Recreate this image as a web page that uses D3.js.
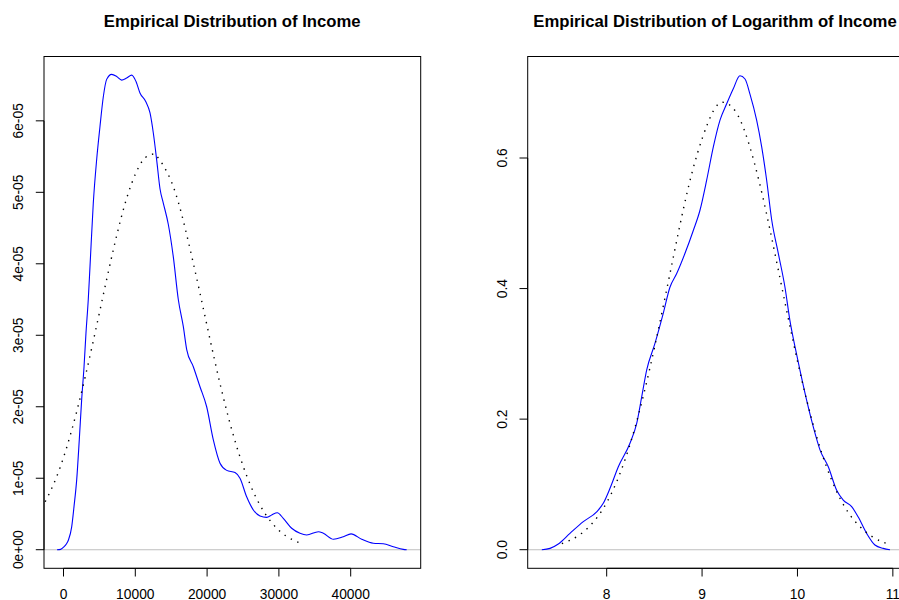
<!DOCTYPE html>
<html>
<head>
<meta charset="utf-8">
<script src="https://cdn.jsdelivr.net/npm/d3@7"></script>
<style>
  html, body { margin: 0; padding: 0; background: #fff; }
  svg { display: block; font-family: "Liberation Sans", Arial, Helvetica, sans-serif; }
</style>
</head>
<body>
<svg id="chart" width="899" height="600"></svg>
<script>
// ---------------- DATA ----------------
// Panel 1: Income — kernel density (blue)
const incomeX = [-900, -400, 0, 400, 700, 1140, 1460, 1840, 2200, 2530, 2860, 3130, 3450, 3690, 4150, 4620, 5080, 5550, 6010, 6710, 7410, 8100, 8800, 9500, 10100, 10650, 11450, 12050, 12510, 12980, 13440, 13900, 14600, 15290, 15990, 16690, 17160, 18080, 19010, 19940, 20860, 21800, 22730, 23890, 24580, 25510, 26440, 27370, 28300, 29000, 29780, 30610, 31780, 32940, 33870, 35500, 36190, 37600, 38970, 40050, 41530, 43150, 44540, 45930, 47330, 47800];
const incomeDensity = [0, 0.05e-6, 0.35e-6, 0.8e-6, 1.4e-6, 3.2e-6, 6.0e-6, 9.8e-6, 1.54e-5, 2.1e-5, 2.56e-5, 3.03e-5, 3.5e-5, 3.96e-5, 4.85e-5, 5.46e-5, 5.92e-5, 6.34e-5, 6.58e-5, 6.65e-5, 6.62e-5, 6.57e-5, 6.60e-5, 6.64e-5, 6.55e-5, 6.39e-5, 6.27e-5, 6.11e-5, 5.83e-5, 5.45e-5, 5.05e-5, 4.85e-5, 4.55e-5, 4.1e-5, 3.5e-5, 3.12e-5, 2.8e-5, 2.56e-5, 2.28e-5, 2.0e-5, 1.54e-5, 1.21e-5, 1.11e-5, 1.08e-5, 1.0e-5, 7.4e-6, 5.56e-6, 4.72e-6, 4.53e-6, 4.86e-6, 5.18e-6, 4.39e-6, 3.0e-6, 2.3e-6, 2.06e-6, 2.52e-6, 2.3e-6, 1.46e-6, 1.82e-6, 2.22e-6, 1.46e-6, 0.9e-6, 0.84e-6, 0.42e-6, 0.05e-6, 0];
// Panel 1: fitted normal (dotted)
const incomeNormX = [-3000, -1000, 1000, 3000, 5000, 7000, 9000, 11000, 12300, 13000, 15000, 17000, 19000, 21000, 23000, 25000, 27000, 29000, 31000, 33000];
const incomeNormY = [0.583e-5, 1.010e-5, 1.621e-5, 2.409e-5, 3.314e-5, 4.222e-5, 4.981e-5, 5.441e-5, 5.53e-5, 5.504e-5, 5.156e-5, 4.473e-5, 3.593e-5, 2.673e-5, 1.840e-5, 1.175e-5, 0.693e-5, 0.379e-5, 0.192e-5, 0.090e-5];

// Panel 2: log income — kernel density (blue)
const logX = [7.32, 7.406, 7.493, 7.615, 7.755, 7.895, 7.964, 8.035, 8.122, 8.244, 8.314, 8.367, 8.419, 8.506, 8.593, 8.663, 8.734, 8.821, 8.908, 8.978, 9.048, 9.118, 9.188, 9.258, 9.327, 9.397, 9.450, 9.502, 9.572, 9.625, 9.677, 9.730, 9.799, 9.869, 9.921, 9.974, 10.026, 10.096, 10.166, 10.236, 10.323, 10.411, 10.480, 10.568, 10.637, 10.725, 10.812, 10.899, 10.97];
const logDensity = [0, 0.002, 0.0087, 0.025, 0.043, 0.058, 0.071, 0.094, 0.127, 0.163, 0.193, 0.234, 0.275, 0.316, 0.362, 0.402, 0.423, 0.454, 0.489, 0.520, 0.566, 0.617, 0.658, 0.683, 0.706, 0.726, 0.721, 0.698, 0.658, 0.617, 0.566, 0.505, 0.454, 0.402, 0.351, 0.311, 0.275, 0.229, 0.188, 0.153, 0.127, 0.091, 0.076, 0.066, 0.050, 0.025, 0.0072, 0.002, 0];
// Panel 2: fitted normal (dotted)
const logNormX = [7.53, 7.7, 7.9, 8.1, 8.3, 8.5, 8.7, 8.9, 9.1, 9.235, 9.4, 9.6, 9.8, 10.0, 10.2, 10.4, 10.6, 10.8, 10.94];
const logNormY = [0.0094, 0.0212, 0.0495, 0.1025, 0.1888, 0.3089, 0.4492, 0.5805, 0.6669, 0.685, 0.6581, 0.5629, 0.4279, 0.2891, 0.1736, 0.0926, 0.0439, 0.0185, 0.0094];

// Ticks and labels
const incomeXTicks = [0, 10000, 20000, 30000, 40000];
const incomeYTicks = [0, 1e-5, 2e-5, 3e-5, 4e-5, 5e-5, 6e-5];
const incomeYLabels = ["0e+00", "1e-05", "2e-05", "3e-05", "4e-05", "5e-05", "6e-05"];
const logXTicks = [8, 9, 10, 11];
const logYTicks = [0, 0.2, 0.4, 0.6];
const logYLabels = ["0.0", "0.2", "0.4", "0.6"];
const titles = ["Empirical Distribution of Income", "Empirical Distribution of Logarithm of Income"];

// ---------------- DRAW ----------------
const svg = d3.select("#chart");
const plotTop = 56.5, plotBottom = 568.3;
const fontSize = 13.8, titleSize = 16.7, tickLen = 8.2;

function panel(opts) {
  const { left, right, xDomain, yDomain, xs, ys, nx, ny, xTicks, xLabels, yTicks, yLabels, title, titleX, id } = opts;
  const x = d3.scaleLinear().domain(xDomain).range([left, right]);
  const y = d3.scaleLinear().domain(yDomain).range([plotBottom, plotTop]);
  const g = svg.append("g");

  g.append("clipPath").attr("id", id).append("rect")
    .attr("x", left).attr("y", plotTop).attr("width", right - left).attr("height", plotBottom - plotTop);
  const plot = g.append("g").attr("clip-path", `url(#${id})`);

  // zero line
  plot.append("line").attr("x1", left).attr("x2", right)
    .attr("y1", y(0)).attr("y2", y(0)).attr("stroke", "#bebebe").attr("stroke-width", 1.1);

  const line = d3.line().x(d => x(d[0])).y(d => y(d[1]));
  plot.append("path")
    .attr("d", line.curve(d3.curveMonotoneX)(xs.map((v, i) => [v, ys[i]])))
    .attr("fill", "none").attr("stroke", "#0000ff").attr("stroke-width", 1.1);
  plot.append("path")
    .attr("d", d3.line().x(d => x(d[0])).y(d => y(d[1])).curve(d3.curveNatural)(nx.map((v, i) => [v, ny[i]])))
    .attr("fill", "none").attr("stroke", "#000").attr("stroke-width", 1.4)
    .attr("stroke-dasharray", "1.4 5.8");

  // box
  g.append("rect").attr("x", left).attr("y", plotTop).attr("width", right - left).attr("height", plotBottom - plotTop)
    .attr("fill", "none").attr("stroke", "#000").attr("stroke-width", 1);

  // x axis
  const xa = g.append("g");
  xa.append("line").attr("x1", x(xTicks[0])).attr("x2", x(xTicks[xTicks.length - 1]))
    .attr("y1", plotBottom).attr("y2", plotBottom).attr("stroke", "#000");
  xTicks.forEach((t, i) => {
    xa.append("line").attr("x1", x(t)).attr("x2", x(t)).attr("y1", plotBottom).attr("y2", plotBottom + tickLen)
      .attr("stroke", "#000");
    xa.append("text").attr("x", x(t)).attr("y", 598.6).attr("text-anchor", "middle")
      .attr("font-size", fontSize).text(xLabels[i]);
  });

  // y axis
  const ya = g.append("g");
  ya.append("line").attr("x1", left).attr("x2", left)
    .attr("y1", y(yTicks[0])).attr("y2", y(yTicks[yTicks.length - 1])).attr("stroke", "#000");
  yTicks.forEach((t, i) => {
    ya.append("line").attr("x1", left - tickLen).attr("x2", left).attr("y1", y(t)).attr("y2", y(t))
      .attr("stroke", "#000");
    const tx = left - 20.8, ty = y(t);
    ya.append("text").attr("transform", `translate(${tx},${ty}) rotate(-90)`)
      .attr("text-anchor", "middle").attr("font-size", fontSize).text(yLabels[i]);
  });

  // title
  g.append("text").attr("x", titleX).attr("y", 27).attr("text-anchor", "middle")
    .attr("font-size", titleSize).attr("font-weight", "bold").text(title);
}

panel({
  id: "clip1", left: 44, right: 420.7,
  xDomain: [-2716, 49750], yDomain: [-2.6e-6, 6.9e-5],
  xs: incomeX, ys: incomeDensity, nx: incomeNormX, ny: incomeNormY,
  xTicks: incomeXTicks, xLabels: incomeXTicks.map(String),
  yTicks: incomeYTicks, yLabels: incomeYLabels,
  title: titles[0], titleX: 232.2
});

panel({
  id: "clip2", left: 527.7, right: 904.4,
  xDomain: [7.172, 11.121], yDomain: [-0.0285, 0.7555],
  xs: logX, ys: logDensity, nx: logNormX, ny: logNormY,
  xTicks: logXTicks, xLabels: logXTicks.map(String),
  yTicks: logYTicks, yLabels: logYLabels,
  title: titles[1], titleX: 715
});
</script>
</body>
</html>
